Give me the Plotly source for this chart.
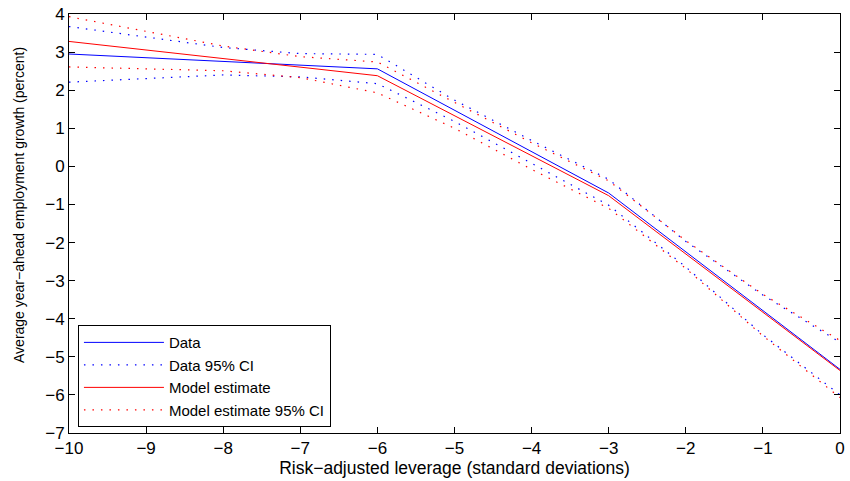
import plotly.graph_objects as go

# Mean lines (knots)
x_knots = [-10, -6, -3, 0]
data_mean = [2.95, 2.56, -0.70, -5.33]
model_mean = [3.28, 2.38, -0.77, -5.36]

# 95% confidence bands (sampled)
x_ci = [-10, -9, -8, -7, -6, -5, -4, -3, -2, -1, 0]
data_ci_upper = [3.67, 3.40, 3.12, 2.96, 2.94, 1.74, 0.68, -0.34, -1.97, -3.38, -4.62]
data_ci_lower = [2.21, 2.31, 2.40, 2.35, 2.17, 1.18, 0.07, -1.02, -2.64, -4.42, -6.00]
model_ci_upper = [3.93, 3.55, 3.16, 2.88, 2.74, 1.68, 0.62, -0.38, -1.95, -3.36, -4.57]
model_ci_lower = [2.61, 2.56, 2.51, 2.33, 1.93, 1.00, -0.08, -1.10, -2.68, -4.45, -6.07]

x_ticks = list(range(-10, 1))
y_ticks = list(range(-7, 5))

BLUE = "#0000ff"
RED = "#ff0000"
DOT = "1.5px,7px"
FONT = "Liberation Sans, Arial"

fig = go.Figure()
fig.add_trace(go.Scatter(x=x_knots, y=data_mean, mode="lines", name="Data",
                         line=dict(color=BLUE, width=1)))
fig.add_trace(go.Scatter(x=x_ci, y=data_ci_upper, mode="lines", name="Data 95% CI",
                         line=dict(color=BLUE, width=1.2, dash=DOT), legendgroup="dci"))
fig.add_trace(go.Scatter(x=x_ci, y=data_ci_lower, mode="lines", name="Data 95% CI",
                         line=dict(color=BLUE, width=1.2, dash=DOT), legendgroup="dci",
                         showlegend=False))
fig.add_trace(go.Scatter(x=x_knots, y=model_mean, mode="lines", name="Model estimate",
                         line=dict(color=RED, width=1)))
fig.add_trace(go.Scatter(x=x_ci, y=model_ci_upper, mode="lines", name="Model estimate 95% CI",
                         line=dict(color=RED, width=1.2, dash=DOT), legendgroup="mci"))
fig.add_trace(go.Scatter(x=x_ci, y=model_ci_lower, mode="lines", name="Model estimate 95% CI",
                         line=dict(color=RED, width=1.2, dash=DOT), legendgroup="mci",
                         showlegend=False))

axis_common = dict(showline=True, linecolor="black", linewidth=1, mirror="ticks",
                   ticks="inside", ticklen=6, tickcolor="black", showgrid=False,
                   zeroline=False, ticklabeloverflow="allow",
                   tickfont=dict(family=FONT, size=17, color="black"))

fig.update_xaxes(range=[-10, 0], tickmode="array", tickvals=x_ticks,
                 title=dict(text="Risk\u2212adjusted leverage (standard deviations)",
                            font=dict(family=FONT, size=17.5, color="black"),
                            standoff=4),
                 **axis_common)
fig.update_yaxes(range=[-7, 4], tickmode="array", tickvals=y_ticks, **axis_common)

fig.add_annotation(text="Average year\u2212ahead employment growth (percent)",
                   xref="paper", yref="paper", x=-0.0657, y=0.545,
                   xanchor="center", yanchor="middle", textangle=-90,
                   showarrow=False, font=dict(family=FONT, size=14, color="black"))

fig.update_layout(
    width=850, height=481,
    margin=dict(l=69, r=5, t=7, b=48),
    plot_bgcolor="white", paper_bgcolor="white",
    font=dict(family=FONT, color="black"),
    legend=dict(x=0.0116, y=0.014, xanchor="left", yanchor="bottom",
                bordercolor="black", borderwidth=1, bgcolor="white",
                font=dict(family=FONT, size=15, color="black"),
                itemwidth=80, tracegroupgap=0),
)

fig.write_html("out.html")
